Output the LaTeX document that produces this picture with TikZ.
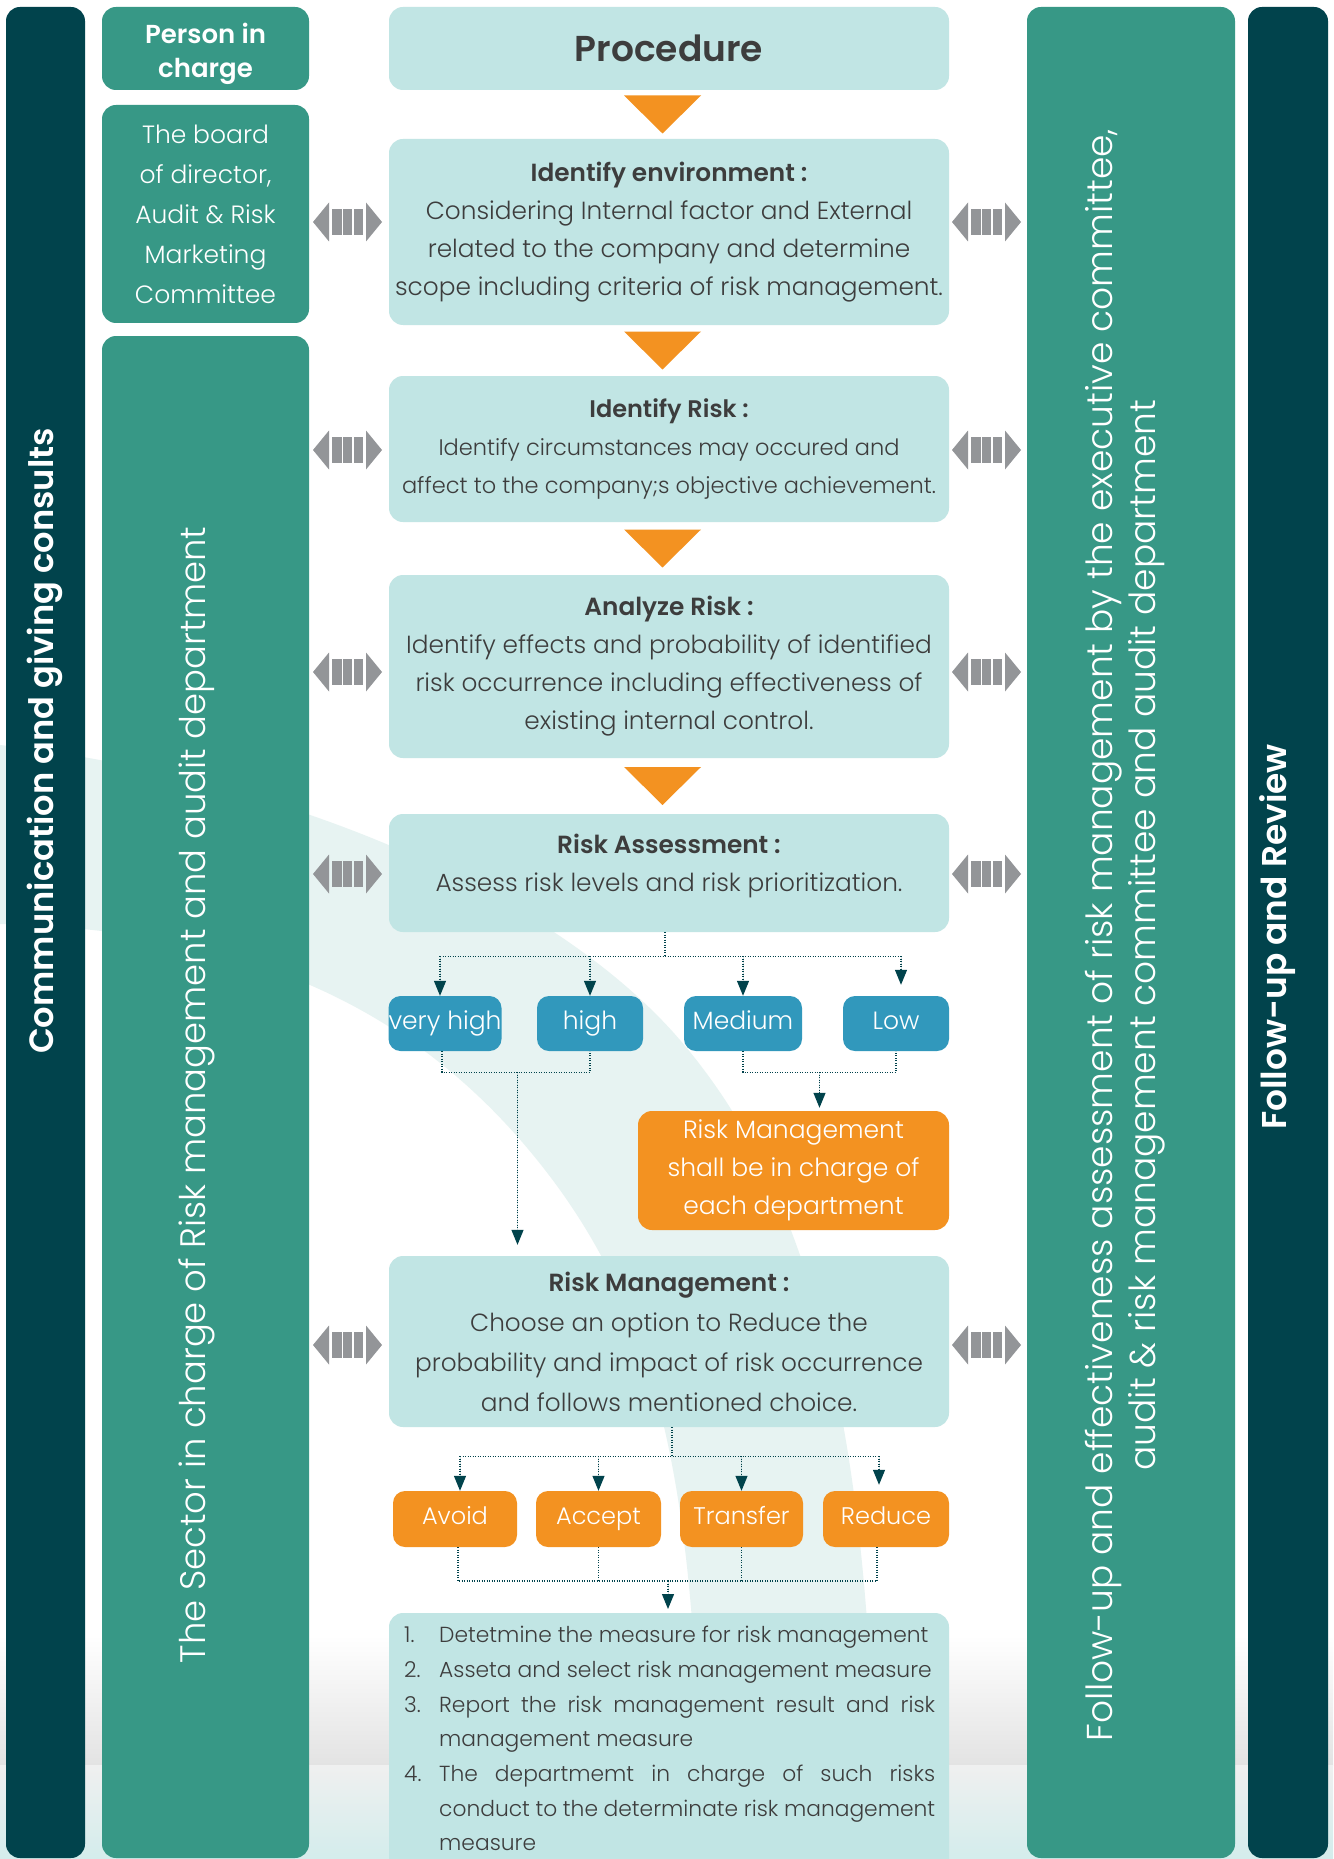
\documentclass[tikz,border=0pt]{standalone}
\usepackage{fontspec}
\usetikzlibrary{arrows.meta,calc}
\setmainfont{Poppins}
\IfFontExistsTF{Poppins Light}{\newfontfamily\fLight{Poppins Light}[WordSpace=1.3]\newfontfamily\fLightL{Poppins Light}}{\newfontfamily\fLight{Poppins}[WordSpace=1.3]\newfontfamily\fLightL{Poppins}}
\IfFontExistsTF{Poppins SemiBold}{\newfontfamily\fBold{Poppins SemiBold}}{\newfontfamily\fBoldfam{Poppins}\newcommand\fBold{\fBoldfam\bfseries}}
\newcommand\setfs[2]{\fontsize{#1}{#2}\selectfont}
\definecolor{dteal}{HTML}{01434C}
\definecolor{teal2}{HTML}{379886}
\definecolor{lteal}{HTML}{C1E5E4}
\definecolor{blu}{HTML}{3198BC}
\definecolor{orng}{HTML}{F39221}
\definecolor{gry}{HTML}{939598}
\definecolor{txt}{HTML}{3D3D3D}
\definecolor{swoosh}{HTML}{E3F1F0}
\newcommand\itm[2]{\hangindent=35pt\hangafter=1\noindent\makebox[35pt][l]{#1}#2\par}
\begin{document}
\begin{tikzpicture}[x=1pt,y=-1pt,
  vbar/.style={rounded corners=14pt, inner sep=0pt},
  pbox/.style={rounded corners=14pt, fill=lteal, inner sep=0pt, minimum width=560, align=center, text=txt, font=\fLight\setfs{24.8}{38}},
  lvl/.style={rounded corners=12pt, fill=blu, inner sep=0pt, minimum height=55, text height=18pt, text depth=6pt, text=white, font=\fLight\setfs{25}{30}},
  act/.style={rounded corners=12pt, fill=orng, inner sep=0pt, minimum height=56, text height=17pt, text depth=6pt, text=white, font=\fLight\setfs{24}{30}},
  conn/.style={draw=dteal, line width=1.2pt, dash pattern=on 1.2pt off 1.3pt},
  ctip/.style={-{Triangle[width=12pt,length=15pt]}, fill=dteal},
  vtext/.style={rotate=90, text=white, inner sep=0pt, align=center},
  darrow/.pic={
    \fill[gry] (-34.5,0) -- (-18.5,-19.5) -- (-18.5,19.5) -- cycle;
    \fill[gry] (-15.5,-13) rectangle (-5.5,13);
    \fill[gry] (-4.2,-13) rectangle (4.8,13);
    \fill[gry] (6.2,-13) rectangle (15.5,13);
    \fill[gry] (34.5,0) -- (18.5,-19.5) -- (18.5,19.5) -- cycle;
  }
]
\useasboundingbox (0,0) rectangle (1333,1859);
% background
\fill[white] (0,0) rectangle (1333,1859);
\shade[top color=white, bottom color=black!11!white] (0,1635) rectangle (1333,1765);
\shade[top color=black!6!white, bottom color=lteal!70!white] (0,1765) rectangle (1333,1859);
\fill[swoosh, opacity=0.85] (0,745) .. controls (300,780) and (560,900) .. (680,1040)
  .. controls (800,1180) and (875,1400) .. (875,1859) -- (700,1859)
  .. controls (700,1500) and (660,1330) .. (560,1190)
  .. controls (430,1010) and (250,930) .. (0,924) -- cycle;

% side bars
\node[vbar, fill=dteal, minimum width=79, minimum height=1851] (lbar) at (45.5,932.5) {};
\node[vbar, fill=teal2, minimum width=207, minimum height=83, text=white, align=center, font=\fBold\setfs{26}{34}] (person) at (205.5,48.5) {\rule{0pt}{32pt}Person in\\charge};
\node[vbar, fill=teal2, minimum width=207, minimum height=218, text=white, align=center, font=\fLight\setfs{25}{40}] (board) at (205.5,214) {The board\\of director,\\Audit \& Risk\\Marketing\\Committee};
\node[vbar, fill=teal2, minimum width=207, minimum height=1522] (sector) at (205.5,1097) {};
\node[vbar, fill=teal2, minimum width=208, minimum height=1851] (rteal) at (1131,932.5) {};
\node[vbar, fill=dteal, minimum width=80, minimum height=1851] (rdark) at (1288,932.5) {};

\node[vtext, font=\fBold\setfs{33.7}{40}] (commtxt) at (45,741) {Communication and giving consults};
\node[vtext, font=\fLightL\setfs{35.4}{42}] (sectortxt) at (197,1095) {The Sector in charge of Risk management and audit department};
\node[vtext, font=\fLightL\setfs{36}{43}] (followtxt) at (1125,935) {Follow-up and effectiveness assessment of risk management by the executive committee,\\audit \& risk management committee and audit department};
\node[vtext, font=\fBold\setfs{34.4}{40}] (reviewtxt) at (1278,937) {Follow-up and Review};

% procedure column
\node[pbox, minimum height=83, font=\fBold\setfs{36}{40}] (proc) at (669,48.5) {Procedure};
\node[pbox, minimum height=186] (env) at (669,232) {{\fBold Identify environment :}\\Considering Internal factor and External\\related to the company and determine\\scope including criteria of risk management.};
\node[pbox, minimum height=146, font=\fLight\setfs{22.5}{38}] (idrisk) at (669,449) {{\fBold\setfs{24}{38}Identify Risk :}\\Identify circumstances may occured and\\affect to the company;s objective achievement.};
\node[pbox, minimum height=183] (analyze) at (669,666.5) {{\fBold Analyze Risk :}\\Identify effects and probability of identified\\risk occurrence including effectiveness of\\existing internal control.};
\node[pbox, minimum height=118] (assess) at (669,873) {{\fBold Risk Assessment :}\\Assess risk levels and risk prioritization.\rule[-20pt]{0pt}{20pt}};
\node[pbox, minimum height=171, font=\fLight\setfs{24.8}{40}] (rm) at (669,1341.5) {{\fBold Risk Management :}\\Choose an option to Reduce the\\probability and impact of risk occurrence\\and follows mentioned choice.};

% orange triangles between steps
\foreach \a/\b in {proc/env, env/idrisk, idrisk/analyze, analyze/assess}{
  \path ($(\a.south)!0.5!(\b.north)$) coordinate (tmid);
  \fill[orng] ([shift={(-45,-19)}]tmid) -- ([shift={(32,-19)}]tmid) -- ([shift={(-6.5,19)}]tmid) -- cycle;
}

% double arrows
\foreach \yy in {222,450,672,874,1345}{
  \pic at (347.5,\yy) {darrow};
  \pic at (986.5,\yy) {darrow};
}

% risk levels
\node[lvl, minimum width=104] (vh) at (445,1023.5) {very high};
\node[lvl, minimum width=106] (high) at (590,1023.5) {high};
\node[lvl, minimum width=118] (med) at (743,1023.5) {Medium};
\node[lvl, minimum width=106] (low) at (896,1023.5) {Low};
\node[rounded corners=14pt, fill=orng, inner sep=0pt, minimum width=311, minimum height=119, text=white, align=center, font=\fLight\setfs{25}{38}] (dept) at (793.5,1170.5) {Risk Management\\shall be in charge of\\each department};

\coordinate (j1) at ($(assess.south)+(-4,24)$);
\coordinate (vhtop) at ($(vh.north)+(-5,0)$);
\coordinate (lowtip) at ($(low.north)+(5,-11)$);
\draw[conn] (assess.south -| j1) -- (j1);
\draw[conn] (vhtop |- j1) -- (lowtip |- j1);
\draw[conn,ctip] (vhtop |- j1) -- (vhtop);
\draw[conn,ctip] (high.north |- j1) -- (high.north);
\draw[conn,ctip] (med.north |- j1) -- (med.north);
\draw[conn,ctip] (lowtip |- j1) -- (lowtip);

\coordinate (j2) at ($(vh.south)!0.5!(high.south)+(0,21)$);
\coordinate (vhbot) at ($(vh.south)+(-3,0)$);
\coordinate (rmtip) at ($(rm.north)+(0,-11)$);
\draw[conn] (vhbot) |- (j2) -| (high.south);
\draw[conn,ctip] (j2) -- (j2 |- rmtip);
\coordinate (j3) at ($(med.south)!0.5!(low.south)+(0,21)$);
\coordinate (depttip) at ($(dept.north)+(0,-3)$);
\draw[conn] (med.south) |- (j3) -| (low.south);
\draw[conn,ctip] (j3) -- (j3 |- depttip);

% responses
\node[act, minimum width=124] (avoid) at (455,1519) {Avoid};
\node[act, minimum width=125] (accept) at (598.5,1519) {Accept};
\node[act, minimum width=123] (transfer) at (741.5,1519) {Transfer};
\node[act, minimum width=126] (reduce) at (886,1519) {Reduce};

\coordinate (j4) at ($(rm.south)+(3,29)$);
\coordinate (avtop) at ($(avoid.north)+(5,0)$);
\coordinate (redtip) at ($(reduce.north)+(-7,-6)$);
\draw[conn] (rm.south -| j4) -- (j4);
\draw[conn] (avtop |- j4) -- (redtip |- j4);
\draw[conn,ctip] (avtop |- j4) -- (avtop);
\draw[conn,ctip] (accept.north |- j4) -- (accept.north);
\draw[conn,ctip] (transfer.north |- j4) -- (transfer.north);
\draw[conn,ctip] (redtip |- j4) -- (redtip);

\coordinate (j5) at ($(rm.south)+(-1,0)$);
\coordinate (j6) at (j5 |- 0,1581);
\coordinate (avbot) at ($(avoid.south)+(3,0)$);
\coordinate (redbot) at ($(reduce.south)+(-9,0)$);
\draw[conn] (avbot) |- (j6);
\draw[conn] (accept.south) -- (accept.south |- j6);
\draw[conn] (transfer.south) -- (transfer.south |- j6);
\draw[conn] (redbot) |- (j6);

% final list
\fill[lteal, rounded corners=14pt] (389,1613) rectangle (949,1885);
\node[anchor=north west, inner xsep=15pt, inner ysep=13pt, text width=531pt, align=justify, text=txt, font=\fLightL\setfs{21.8}{34.7}] (list) at (389,1613) {%
\tolerance=9000\emergencystretch=20pt\hyphenpenalty=10000
\itm{1.}{Detetmine the measure for risk management}
\itm{2.}{Asseta and select risk management measure}
\itm{3.}{Report the risk management result and risk\linebreak management measure}
\itm{4.}{The departmemt in charge of such risks\linebreak conduct to the determinate risk management\linebreak measure}};
\coordinate (listtip) at ($(list.north)+(0,-4)$);
\draw[conn,ctip] (j6) -- (j6 |- listtip);
\end{tikzpicture}
\end{document}
